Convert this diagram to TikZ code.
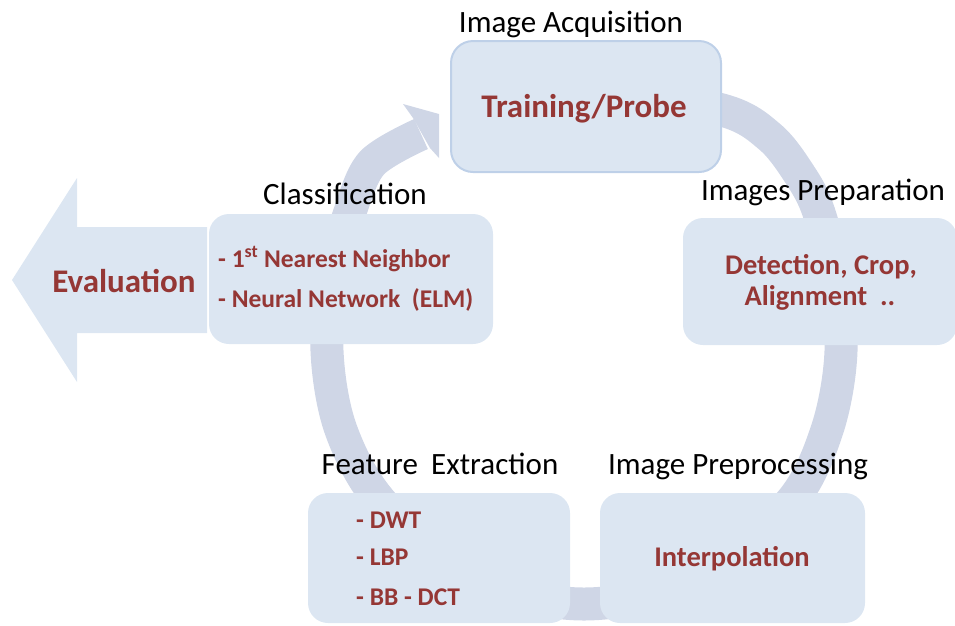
\documentclass[tikz,border=0pt]{standalone}
\usepackage{fontspec}
\setmainfont{Carlito}
\definecolor{boxfill}{RGB}{220,230,242}
\definecolor{ringcol}{RGB}{207,214,230}
\definecolor{boxline}{RGB}{190,208,232}
\definecolor{darkred}{RGB}{149,55,53}
\tikzset{
  stage/.style={fill=boxfill, rounded corners=20pt, inner sep=0pt, outer sep=0pt},
  title/.style={anchor=base, font=\fontsize{31}{36}\selectfont, text=black, inner sep=0pt},
  mainlbl/.style={anchor=base, font=\bfseries\fontsize{33}{38}\selectfont, text=darkred, inner sep=0pt},
  sublbl/.style={anchor=base, font=\bfseries\fontsize{28.5}{33}\selectfont, text=darkred, inner sep=0pt},
  itemlbl/.style={anchor=base west, font=\bfseries\fontsize{25.5}{30}\selectfont, text=darkred, inner sep=0pt},
}
\begin{document}
\begin{tikzpicture}[x=1pt,y=-1pt]
\useasboundingbox (0,0) rectangle (955,625);
\clip (0,0) rectangle (955,625);

% cycle ring running clockwise, ending in the arrow head at the top left
\draw[ringcol, line width=33pt] plot[smooth, tension=0.55] coordinates {
  (600,90) (722,110) (770,137) (800,175) (818,210) (833,270) (841,351)
  (827,430) (790,503) (700,578) (584,604) (470,578) (382,503) (341,430)
  (327,351) (334,270) (350,212) (372,163) (421,134)};
\fill[ringcol] (403,104) -- (439,114) -- (439,158) -- (430,148) -- (413,118) -- cycle;

% evaluation block arrow
\fill[boxfill] (207,227) -- (77,227) -- (77,178) -- (12,280) -- (77,382)
  -- (77,333) -- (207,333) -- cycle;

% stage boxes
\node[stage, draw=boxline, line width=2pt, rounded corners=22pt,
      minimum width=270pt, minimum height=131pt] (acq) at (586,106.5) {};
\node[stage, minimum width=284pt, minimum height=130pt] (cls) at (351,279) {};
\node[stage, minimum width=274pt, minimum height=127pt] (prep) at (820,281.5) {};
\node[stage, minimum width=262pt, minimum height=130pt] (feat) at (439,558) {};
\node[stage, minimum width=265pt, minimum height=130pt] (proc) at (732.5,558) {};

% box contents
\node[mainlbl] (tp) at (584,117) {Training/Probe};
\node[mainlbl] (ev) at (124,292) {Evaluation};
\node[sublbl] (dc) at (821,274) {Detection, Crop,};
\node[sublbl] (al) at (820,305) {Alignment~~..};
\node[sublbl] (ip) at (732,566) {Interpolation};
\node[itemlbl] (nn) at (218,267) {- 1\textsuperscript{st} Nearest Neighbor};
\node[itemlbl] (ne) at (218,307) {- Neural Network~~(ELM)};
\node[itemlbl] (dw) at (356,528) {- DWT};
\node[itemlbl] (lb) at (356,565) {- LBP};
\node[itemlbl] (bb) at (356,605) {- BB - DCT};

% stage titles
\node[title] (t1) at (571,32) {Image Acquisition};
\node[title] (t2) at (345,204) {Classification};
\node[title] (t3) at (823,200) {Images Preparation};
\node[title] (t4) at (440,474) {Feature\hspace{0.2em} Extraction};
\node[title] (t5) at (738,474) {Image Preprocessing};
\end{tikzpicture}
\end{document}
